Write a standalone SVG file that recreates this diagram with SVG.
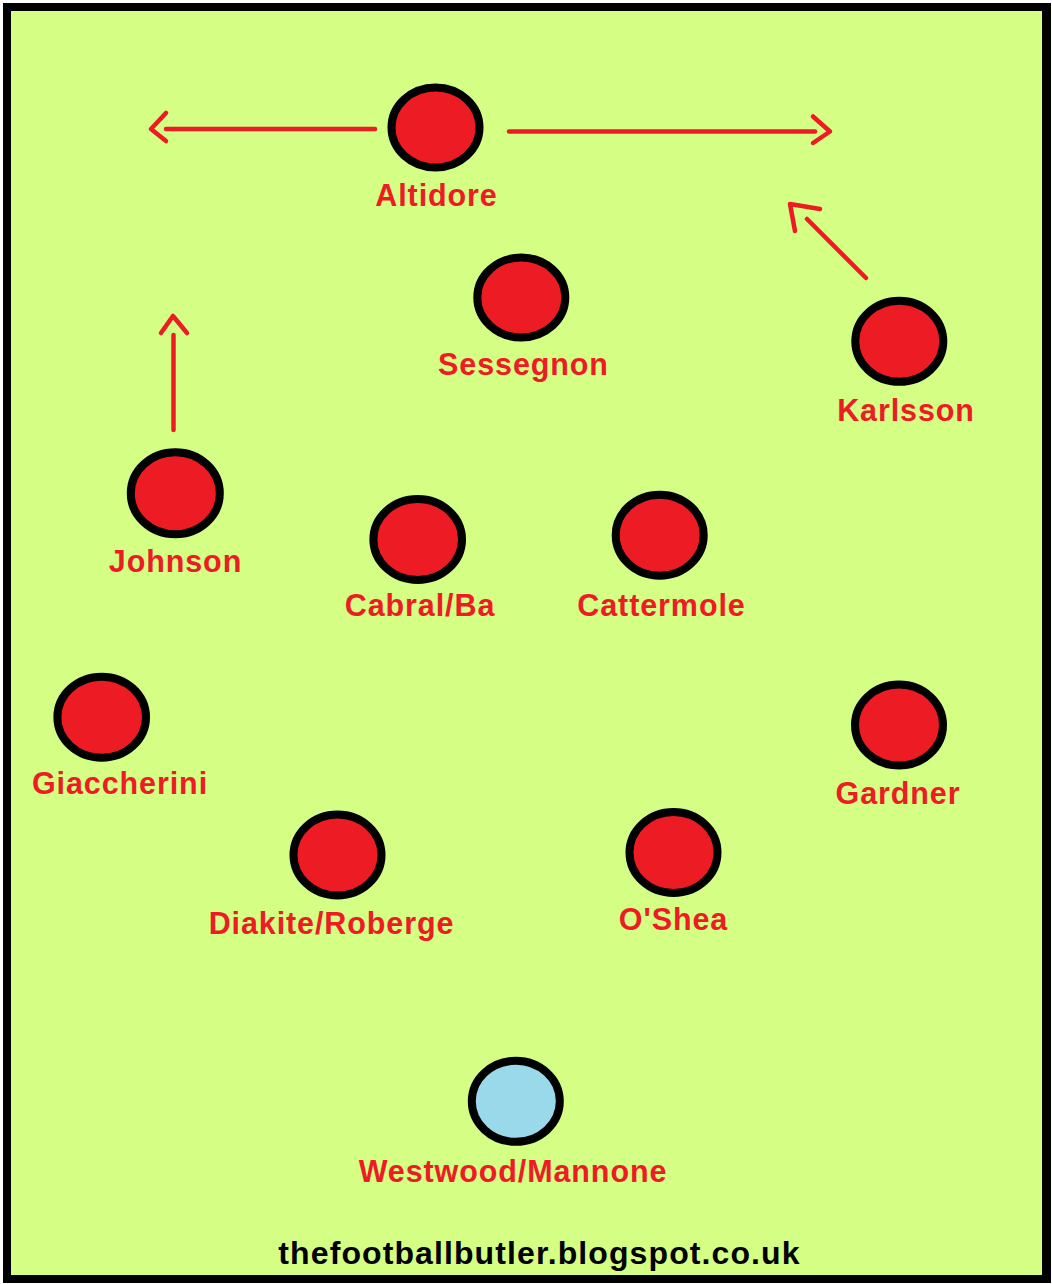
<svg xmlns="http://www.w3.org/2000/svg" width="1052" height="1284" viewBox="0 0 1052 1284">
<style>
.p{fill:#ed1c24;stroke:#000;stroke-width:8}
.gk{fill:#99d9ea;stroke:#000;stroke-width:8}
.lbl{font-family:"Liberation Sans",Arial,sans-serif;font-weight:bold;font-size:30.5px;fill:#ed1c24;text-anchor:middle;letter-spacing:0.9px}
.ft{font-family:"Liberation Sans",Arial,sans-serif;font-weight:bold;font-size:32px;fill:#000;text-anchor:middle;letter-spacing:1.1px}
.c{fill:none;stroke:#ed1c24;stroke-width:4.5;stroke-linecap:round;stroke-linejoin:round}
</style>
<rect x="0" y="0" width="1052" height="1284" fill="#fff"/>
<rect x="3" y="3" width="1048" height="1280" fill="#000"/>
<rect x="11" y="11" width="1031" height="1264" fill="#d4fe84"/>
<g id="connectors">
<line class="c" x1="375" y1="129" x2="166" y2="129"/>
<polyline class="c" points="166,113 151,129 166,141"/>
<line class="c" x1="509" y1="131.5" x2="815" y2="131.5"/>
<polyline class="c" points="813,116.5 830,131.5 813,143"/>
<line class="c" x1="866" y1="278" x2="807" y2="219"/>
<polyline class="c" points="795,231 790,204 820,209"/>
<line class="c" x1="173.5" y1="430" x2="173.5" y2="335"/>
<polyline class="c" points="161,333 173,316 187,333"/>
</g>
<g id="altidore"><ellipse class="p" cx="435.5" cy="127.5" rx="44" ry="40"/><text class="lbl" x="436.5" y="206">Altidore</text></g>
<g id="sessegnon"><ellipse class="p" cx="521.3" cy="297.5" rx="44" ry="40"/><text class="lbl" x="523.5" y="375">Sessegnon</text></g>
<g id="karlsson"><ellipse class="p" cx="899.3" cy="341.3" rx="44" ry="40.5"/><text class="lbl" x="906" y="421">Karlsson</text></g>
<g id="johnson"><ellipse class="p" cx="175.3" cy="493.3" rx="44.5" ry="41"/><text class="lbl" x="175.5" y="572">Johnson</text></g>
<g id="cabral-ba"><ellipse class="p" cx="417.7" cy="539.5" rx="44.3" ry="40.5"/><text class="lbl" x="420" y="616">Cabral/Ba</text></g>
<g id="cattermole"><ellipse class="p" cx="659.7" cy="535.2" rx="44" ry="40.5"/><text class="lbl" x="661.5" y="616">Cattermole</text></g>
<g id="giaccherini"><ellipse class="p" cx="101.7" cy="717.2" rx="44.3" ry="40.5"/><text class="lbl" x="120" y="794">Giaccherini</text></g>
<g id="gardner"><ellipse class="p" cx="899" cy="725" rx="44" ry="40.5"/><text class="lbl" x="898" y="804">Gardner</text></g>
<g id="diakite-roberge"><ellipse class="p" cx="337.5" cy="855" rx="44" ry="40.5"/><text class="lbl" x="331.5" y="934">Diakite/Roberge</text></g>
<g id="oshea"><ellipse class="p" cx="673.5" cy="852.5" rx="44" ry="40.5"/><text class="lbl" x="673.5" y="930">O'Shea</text></g>
<g id="westwood-mannone"><ellipse class="gk" cx="515.8" cy="1101.3" rx="44" ry="40.5"/><text class="lbl" x="513" y="1182">Westwood/Mannone</text></g>
<text class="ft" x="539.5" y="1264">thefootballbutler.blogspot.co.uk</text>
</svg>
